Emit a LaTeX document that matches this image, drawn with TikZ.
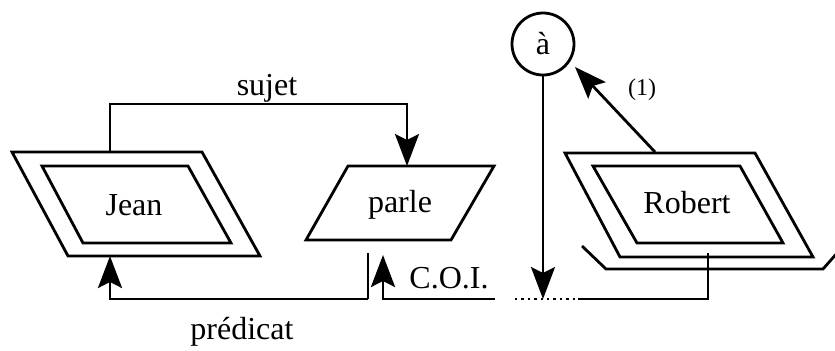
\documentclass[tikz,border=0pt]{standalone}
\usepackage{fontspec}
\setmainfont{Liberation Serif}
\usetikzlibrary{arrows.meta}
\begin{document}
\begin{tikzpicture}[x=0.5pt,y=-0.5pt,
  line width=1.4pt,
  lbl/.style={font=\fontsize{16}{19}\selectfont, inner sep=0pt},
  small/.style={font=\fontsize{12}{14}\selectfont, inner sep=0pt},
  arr/.style={-{Stealth[length=16pt,width=12pt,inset=3pt]}},
  line join=miter]
\useasboundingbox (0,0) rectangle (835,350);
% Jean
\draw (12,152) -- (202,152) -- (260,256) -- (68,256) -- cycle;
\draw (42,166) -- (188,166) -- (231,243) -- (83,243) -- cycle;
\node[lbl] (jean) at (134,205) {Jean};
% parle
\draw (348,166) -- (494,166) -- (451,240) -- (306,240) -- cycle;
\node[lbl] (parle) at (400,205) {parle};
% Robert
\draw (565,153) -- (755,153) -- (813,257) -- (620,257) -- cycle;
\draw (593,166) -- (740,166) -- (783,243) -- (637,243) -- cycle;
\node[lbl] (robert) at (687,203) {Robert};
\draw (582,246) -- (606,269) -- (823,269) -- (838,252);
% circle a
\node[draw, circle, minimum size=31pt, inner sep=0pt, font=\fontsize{16}{19}\selectfont] (a) at (543,44) {à};
% coordinates
\coordinate (jtop) at (110,152);
\coordinate (ptop) at (407,166);
\coordinate (jbot) at (110,256);
\coordinate (c1) at (110,299);
\coordinate (c2) at (368,299);
\coordinate (c3) at (368,253);
\coordinate (c4) at (383,299);
\coordinate (c5) at (383,255);
\coordinate (c6) at (495,299);
\coordinate (d1) at (515,299);
\coordinate (d2) at (578,299);
\coordinate (r1) at (708,299);
\coordinate (r2) at (708,253);
\coordinate (abot) at (543,299);
\coordinate (rtop) at (655,152);
% sujet
\draw[arr] (jtop) -- (110,104) -- (407,104) -- (ptop);
\node[lbl] (sujet) at (267,88) {sujet};
% predicat
\draw[arr] (c2) -- (c1) -- (jbot);
\draw (c3) -- (c2);
\node[lbl] (pred) at (242,332) {prédicat};
% COI
\draw[arr] (c6) -- (c4) -- (c5);
\node[lbl] (coi) at (449,278) {C.O.I.};
\draw[line width=1.2pt, dotted] (d1) -- (d2);
\draw (d2) -- (r1) -- (r2);
% a arrow down
\draw[arr] (a.south) -- (abot);
% (1)
\draw[arr] (rtop) -- (575,67);
\node[small] (one) at (642,90) {(1)};
\end{tikzpicture}
\end{document}
